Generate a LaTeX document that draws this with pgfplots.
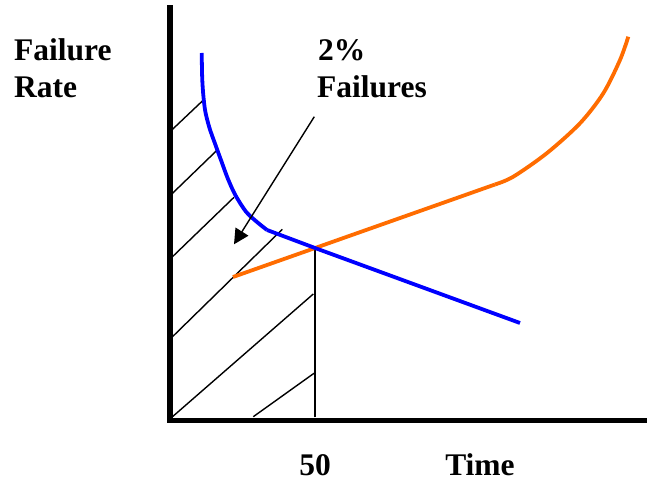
\documentclass[border=0pt]{standalone}
\usepackage{fontspec}
\setmainfont{Liberation Serif}
\usepackage{pgfplots}
\pgfplotsset{compat=1.18}
\usetikzlibrary{arrows.meta}

\definecolor{curveblue}{RGB}{0,0,255}
\definecolor{curveorange}{RGB}{255,108,0}

\newcommand{\lbl}{\bfseries\fontsize{31.5}{37}\selectfont}

\begin{document}
\begin{tikzpicture}
\begin{axis}[
  x=1pt, y=1pt,
  xmin=170, xmax=644,
  ymin=60.5, ymax=473,
  axis lines=left,
  axis line style={-, line width=5.8pt, line cap=rect},
  clip=false,
  ytick=\empty,
  xtick={315},
  xticklabels={\textbf{50}},
  major tick length=0pt,
  xticklabel style={anchor=base, yshift=-54.5pt, font=\lbl},
]
% page frame, so the picture keeps the reference's size
\path (axis cs:0,0) rectangle (axis cs:647,481);

% hatching under the early part of the curve
\addplot[black, line width=1.4pt] coordinates {(172.5,351.7) (202.7,380.3)};
\addplot[black, line width=1.4pt] coordinates {(172.5,287.7) (218.3,332)};
\addplot[black, line width=1.4pt] coordinates {(172.5,224.3) (234,283.7)};
\addplot[black, line width=1.4pt] coordinates {(172.5,144.3) (282.3,251.7)};
\addplot[black, line width=1.4pt] coordinates {(172.5,64.3) (313.3,187)};
\addplot[black, line width=1.4pt] coordinates {(253.3,64.3) (314,107.7)};
\addplot[black, line width=1.4pt] coordinates {(315,63.5) (315,233)};

% orange curve
\addplot[curveorange, line width=3.8pt] coordinates {(233,204) (495,296.5)};
\addplot[curveorange, line width=3.8pt, smooth] coordinates {
  (495,296.5) (513.3,304.3) (546.7,327.7) (580,357.7)
  (603.3,387.7) (620,421) (628.3,444.3)};

% blue curve
\addplot[curveblue, line width=3.8pt, smooth] coordinates {
  (201.7,428) (202.2,403) (203.3,386) (205.3,369.5) (209.5,353)
  (215.5,336) (221.5,319.5) (227.7,302.7) (235.3,286) (246,269.3)
  (257,259) (267,251)};
\addplot[curveblue, line width=3.8pt] coordinates {(267,251) (315,233) (520,158)};

% arrow to the hatched area
\addplot[black, line width=1.4pt, -{Triangle[length=15pt,width=15pt]}]
  coordinates {(314.3,364.3) (234,236.7)};

\node[anchor=base west, font=\lbl, inner sep=0pt] at (axis cs:14,420.3) {Failure};
\node[anchor=base west, font=\lbl, inner sep=0pt] at (axis cs:14,383.5) {Rate};
\node[anchor=base west, font=\lbl, inner sep=0pt] at (axis cs:318,420.3) {2\%};
\node[anchor=base west, font=\lbl, inner sep=0pt] at (axis cs:317,383.5) {Failures};
\node[anchor=base, font=\lbl, inner sep=0pt] at (axis cs:480,6) {Time};
\end{axis}
\end{tikzpicture}
\end{document}
